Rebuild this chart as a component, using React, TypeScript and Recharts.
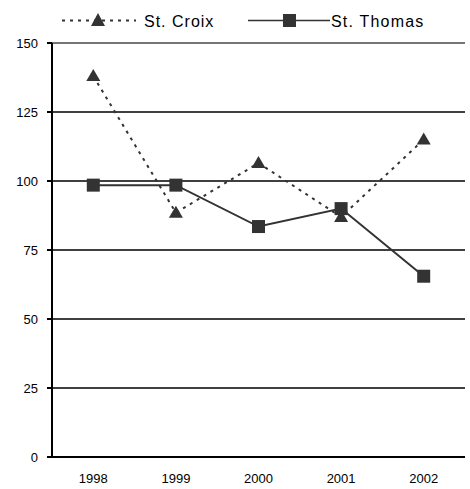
import React from 'react'
import { CartesianGrid, Legend, Line, LineChart, ReferenceLine, XAxis, YAxis } from 'recharts'

const years = ['1998', '1999', '2000', '2001', '2002']
const stCroix = [138, 88.5, 106.5, 87, 115]
const stThomas = [98.5, 98.5, 83.5, 90, 65.5]
const yTicks = [0, 25, 50, 75, 100, 125, 150]
const bandTicks = [0, 1, 2, 3, 4, 5]

const data = years.map((year, i) => ({ year, stCroix: stCroix[i], stThomas: stThomas[i] }))

const INK = '#333333'
const FONT = '"Liberation Sans", Arial, sans-serif'

const Triangle = (props: any) => {
    const { cx, cy } = props
    if (cx == null || cy == null) return <g />
    return <path d={`M${cx},${cy - 7} L${cx + 7},${cy + 5} L${cx - 7},${cy + 5} Z`} fill={INK} />
}

const Square = (props: any) => {
    const { cx, cy } = props
    if (cx == null || cy == null) return <g />
    return <rect x={cx - 6.5} y={cy - 6.5} width={13} height={13} fill={INK} />
}

const LegendContent = () => (
    <svg width={470} height={34} style={{ display: 'block' }}>
        <line x1={62} y1={20.5} x2={136} y2={20.5} stroke={INK} strokeWidth={2} strokeDasharray="3 5" />
        <path d="M98,13 L105,26 L91,26 Z" fill={INK} />
        <text x={144} y={27} fontFamily={FONT} fontSize={16} letterSpacing={1} fill="#000">St. Croix</text>
        <line x1={248} y1={20.5} x2={330} y2={20.5} stroke={INK} strokeWidth={1.5} />
        <rect x={283} y={14} width={13} height={13} fill={INK} />
        <text x={331} y={27} fontFamily={FONT} fontSize={16} letterSpacing={1.2} fill="#000">St. Thomas</text>
    </svg>
)

const App = () => {
    return (
        <div style={{ position: 'absolute', left: 0, top: 0, background: '#fff' }}>
            <LineChart width={470} height={489} data={data} margin={{ top: 43, right: 5, bottom: 0, left: 0 }}>
                <CartesianGrid vertical={false} stroke="#000" strokeWidth={1.5} />
                <XAxis
                    xAxisId="b"
                    type="number"
                    domain={[0, 5]}
                    ticks={bandTicks}
                    height={0}
                    axisLine={false}
                    tick={() => <g />}
                    tickSize={5}
                    tickLine={{ stroke: '#000', strokeWidth: 2 }}
                />
                <XAxis
                    dataKey="year"
                    height={32}
                    padding={{ left: 41.3, right: 41.3 }}
                    tickLine={false}
                    tickSize={5}
                    tickMargin={12}
                    axisLine={{ stroke: '#000', strokeWidth: 2 }}
                    tick={{ fill: '#000', fontSize: 13, fontFamily: FONT }}
                />
                <YAxis
                    width={52}
                    domain={[0, 150]}
                    ticks={yTicks}
                    interval={0}
                    tickSize={5}
                    tickMargin={9}
                    axisLine={{ stroke: '#000', strokeWidth: 2 }}
                    tickLine={{ stroke: '#000', strokeWidth: 2 }}
                    tick={{ fill: '#000', fontSize: 13, fontFamily: FONT }}
                />
                <ReferenceLine y={150} stroke="#888" strokeWidth={1.5} />
                <ReferenceLine x={5} xAxisId="b" stroke="#888" strokeWidth={1.5} />
                <Legend
                    layout="horizontal"
                    verticalAlign="middle"
                    content={() => <LegendContent />}
                    wrapperStyle={{ top: 0, left: 0, width: 470, height: 34 }}
                />
                <Line
                    dataKey="stCroix"
                    name="St. Croix"
                    type="linear"
                    stroke={INK}
                    strokeWidth={2}
                    strokeDasharray="3 5"
                    dot={<Triangle />}
                    isAnimationActive={false}
                />
                <Line
                    dataKey="stThomas"
                    name="St. Thomas"
                    type="linear"
                    stroke={INK}
                    strokeWidth={2}
                    dot={<Square />}
                    isAnimationActive={false}
                />
            </LineChart>
        </div>
    )
}

export default App
